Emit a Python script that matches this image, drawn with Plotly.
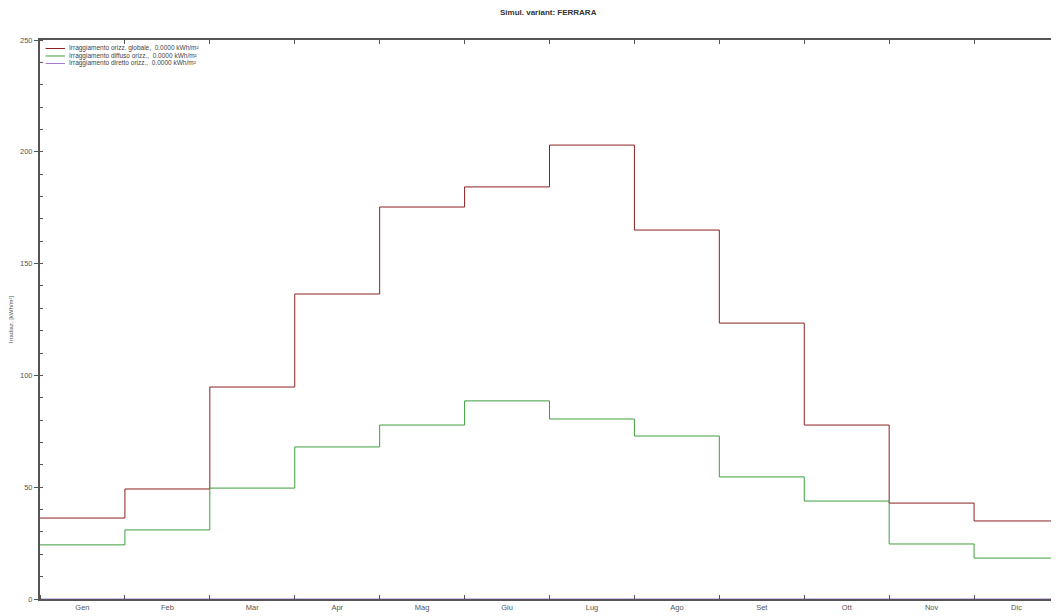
import plotly.graph_objects as go

months = ["Gen", "Feb", "Mar", "Apr", "Mag", "Giu", "Lug", "Ago", "Set", "Ott", "Nov", "Dic"]
globale = [36.2, 49.2, 94.8, 136.4, 175.3, 184.3, 203.0, 165.0, 123.4, 77.8, 42.9, 34.9]
diffuso = [24.2, 30.9, 49.6, 68.0, 77.8, 88.6, 80.5, 72.9, 54.6, 43.8, 24.6, 18.3]
diretto = [0.0] * 12
names = [
    "Irraggiamento orizz. globale,  0.0000 kWh/m²",
    "Irraggiamento diffuso orizz.,  0.0000 kWh/m²",
    "Irraggiamento diretto orizz.,  0.0000 kWh/m²",
]
colors = ["#8B2020", "#3E9E3E", "#9B7BD0"]

bounds = list(range(len(months) + 1))
centers = [i + 0.5 for i in range(len(months))]

fig = go.Figure()
for vals, name, col in zip([globale, diffuso, diretto], names, colors):
    fig.add_trace(go.Scatter(
        x=bounds, y=vals + [vals[-1]], mode="lines", line_shape="hv",
        line=dict(color=col, width=1), name=name, cliponaxis=False,
        showlegend=False,
    ))

# compact legend (swatch + text) in the upper-left corner of the plot area
leg_y = [0.9848, 0.9714, 0.958]
for name, col, yy in zip(names, colors, leg_y):
    fig.add_shape(type="line", xref="paper", yref="paper", x0=0.0055, x1=0.0245,
                  y0=yy, y1=yy, line=dict(color=col, width=1))
    fig.add_annotation(xref="paper", yref="paper", x=0.0275, y=yy, text=name,
                       showarrow=False, xanchor="left", yanchor="middle",
                       font=dict(size=6.5, color="#444444"), borderpad=0)

axcol = "#555555"
fig.update_layout(
    width=1051, height=608,
    margin=dict(l=28, r=0, t=32, b=17),
    paper_bgcolor="white", plot_bgcolor="white",
    font=dict(family="Liberation Sans, Arial, sans-serif", size=7.5, color="#555555"),
    title=dict(text="<b>Simul. variant: FERRARA</b>", x=0.514, xanchor="center",
               y=0.993, yanchor="middle", font=dict(size=8, color="#333333")),
    xaxis=dict(
        range=[0, 12], tickmode="array", tickvals=centers, ticktext=months,
        ticks="", showgrid=False, zeroline=False, showline=True,
        linecolor=axcol, linewidth=2, ticklabelstandoff=0,
        minor=dict(tickmode="array", tickvals=bounds, ticks="inside",
                   ticklen=4, tickcolor=axcol, tickwidth=1, showgrid=False),
    ),
    xaxis2=dict(
        range=[0, 12], overlaying="x", side="top", tickmode="array",
        tickvals=bounds, showticklabels=False, ticks="inside", ticklen=4,
        tickcolor=axcol, showgrid=False, zeroline=False, showline=True,
        linecolor=axcol, linewidth=2,
    ),
    yaxis=dict(
        range=[0, 250], tickmode="linear", tick0=0, dtick=50,
        ticks="outside", ticklen=4, tickcolor=axcol, showgrid=False,
        zeroline=False, showline=True, linecolor=axcol, linewidth=2,
        title=dict(text="Irradiaz. [kWh/m²]", font=dict(size=6, color="#555555"), standoff=8),
        minor=dict(tickmode="linear", tick0=0, dtick=10, ticks="inside",
                   ticklen=3, tickcolor=axcol, showgrid=False),
    ),
)
fig.add_trace(go.Scatter(x=[0, 12], y=[None, None], xaxis="x2", showlegend=False,
                         hoverinfo="skip"))

fig.write_html("out.html")
